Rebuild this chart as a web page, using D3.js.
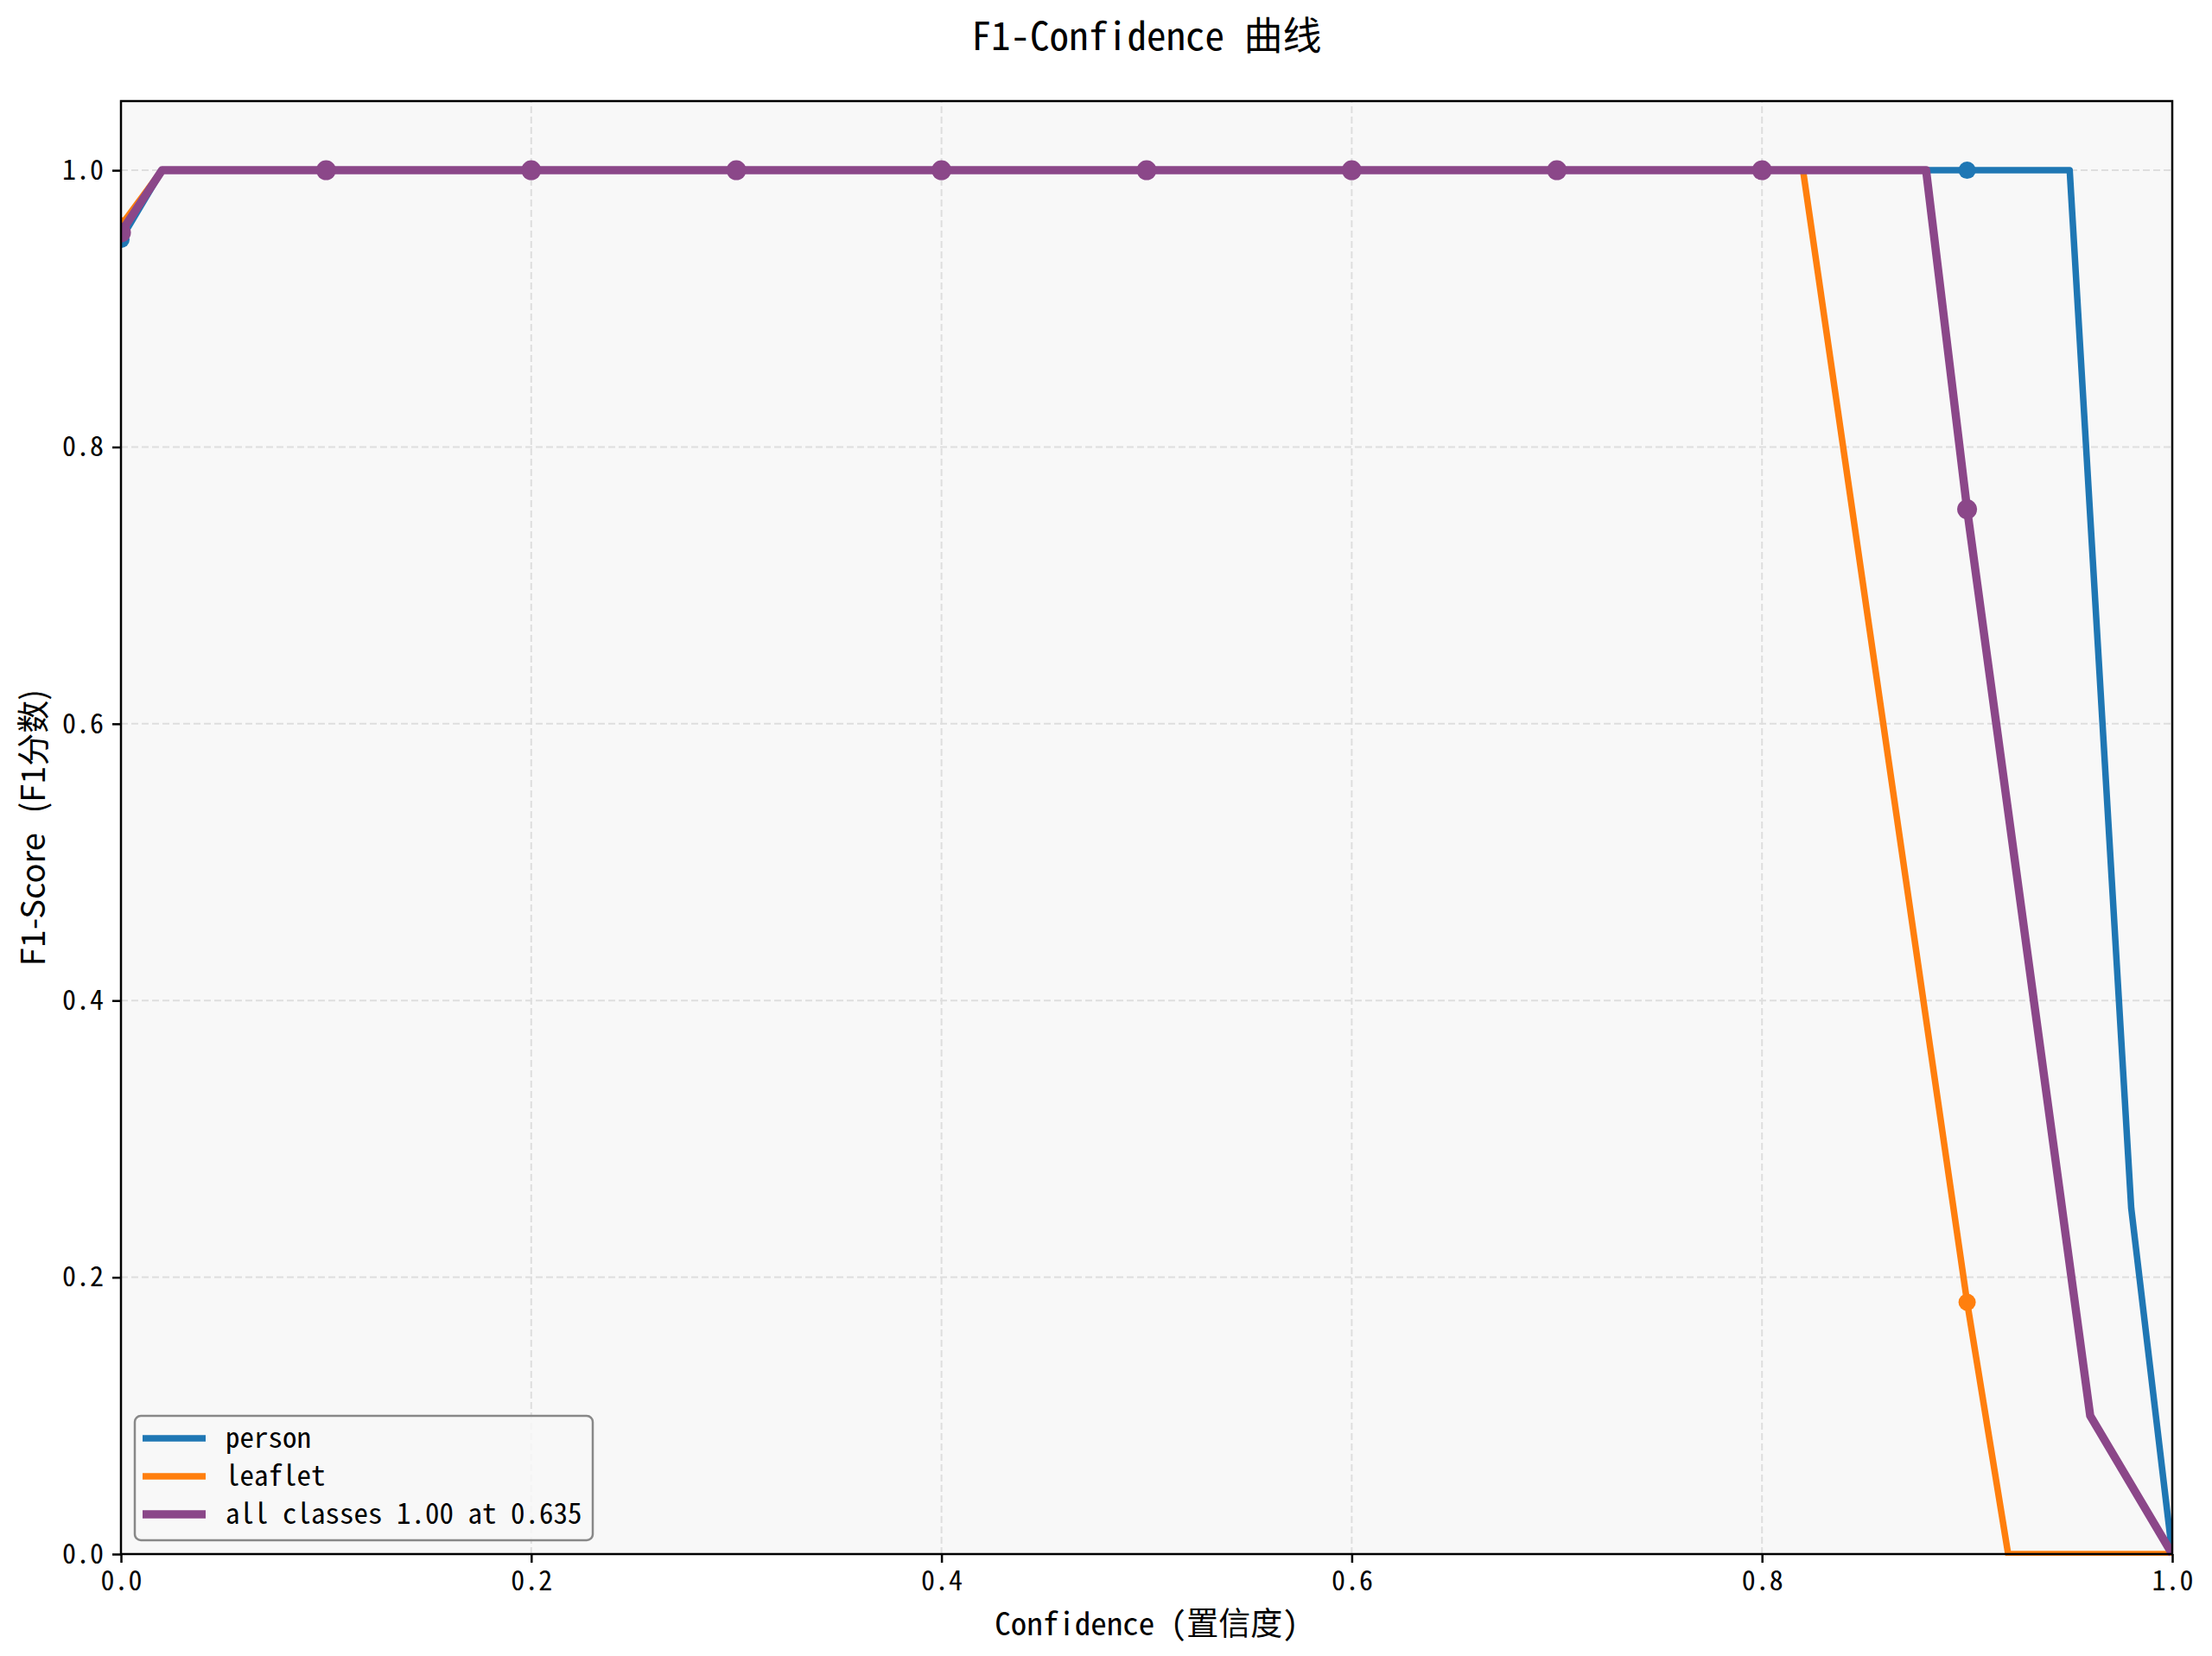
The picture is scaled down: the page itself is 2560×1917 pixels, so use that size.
<!DOCTYPE html>
<html>
<head>
<meta charset="utf-8">
<script src="https://cdn.jsdelivr.net/npm/d3@7"></script>
<style>
  body { margin: 0; background: #fff; }
  text { font-family: "Noto Sans Mono CJK SC", "Noto Sans CJK SC", "DejaVu Sans Mono", monospace; fill: #000; }
</style>
</head>
<body>
<script>
var width = 2560;
var height = 1917;
var margin = {left: 140, right: 46, top: 117, bottom: 118};

// data
var xTicks = [0, 0.2, 0.4, 0.6, 0.8, 1.0];
var yTicks = [0, 0.2, 0.4, 0.6, 0.8, 1.0];
var markerX = [0, 0.1, 0.2, 0.3, 0.4, 0.5, 0.6, 0.7, 0.8, 0.9];

var personX = [0, 0.02, 0.1, 0.2, 0.3, 0.4, 0.5, 0.6, 0.7, 0.8, 0.9, 0.95, 0.98, 1.0];
var personY = [0.95, 1, 1, 1, 1, 1, 1, 1, 1, 1, 1, 1, 0.25, 0];

var leafletX = [0, 0.02, 0.1, 0.2, 0.3, 0.4, 0.5, 0.6, 0.7, 0.8, 0.82, 0.9, 0.92, 1.0];
var leafletY = [0.96, 1, 1, 1, 1, 1, 1, 1, 1, 1, 1, 0.182, 0, 0];

var allX = [0, 0.02, 0.1, 0.2, 0.3, 0.4, 0.5, 0.6, 0.7, 0.8, 0.88, 0.9, 0.96, 1.0];
var allY = [0.955, 1, 1, 1, 1, 1, 1, 1, 1, 1, 1, 0.755, 0.1, 0];

var series = [
  {name: "person", xs: personX, ys: personY, color: "#1f77b4", lw: 7.5, r: 10},
  {name: "leaflet", xs: leafletX, ys: leafletY, color: "#ff7f0e", lw: 7.5, r: 10},
  {name: "all classes 1.00 at 0.635", xs: allX, ys: allY, color: "#8b4789", lw: 9.5, r: 11.5}
];

var svg = d3.select("body").append("svg")
    .attr("width", width)
    .attr("height", height);

var x = d3.scaleLinear().domain([0, 1]).range([margin.left, width - margin.right]);
var y = d3.scaleLinear().domain([0, 1.05]).range([height - margin.bottom, margin.top]);

// plot background
svg.append("rect")
    .attr("x", x(0)).attr("y", y(1.05))
    .attr("width", x(1) - x(0)).attr("height", y(0) - y(1.05))
    .attr("fill", "#f8f8f8");

// grid
var grid = svg.append("g").attr("stroke", "#dedede").attr("stroke-width", 2).attr("stroke-dasharray", "8,4");
grid.selectAll(".gx").data(xTicks).enter().append("line")
    .attr("x1", function(d) { return x(d); }).attr("x2", function(d) { return x(d); })
    .attr("y1", y(0)).attr("y2", y(1.05));
grid.selectAll(".gy").data(yTicks).enter().append("line")
    .attr("y1", function(d) { return y(d); }).attr("y2", function(d) { return y(d); })
    .attr("x1", x(0)).attr("x2", x(1));

svg.append("clipPath").attr("id", "clip").append("rect")
    .attr("x", x(0) - 1).attr("y", y(1.05))
    .attr("width", x(1) - x(0) + 2).attr("height", y(0) - y(1.05) + 2);

var line = d3.line()
    .x(function(d) { return x(d[0]); })
    .y(function(d) { return y(d[1]); });

var plot = svg.append("g").attr("clip-path", "url(#clip)");

series.forEach(function(s) {
  var pts = s.xs.map(function(v, i) { return [v, s.ys[i]]; });
  plot.append("path")
      .datum(pts)
      .attr("d", line)
      .attr("fill", "none")
      .attr("stroke", s.color)
      .attr("stroke-width", s.lw)
      .attr("stroke-linejoin", "round");
  plot.selectAll(null)
      .data(pts.filter(function(p) { return markerX.indexOf(p[0]) >= 0; }))
      .enter().append("circle")
      .attr("cx", function(d) { return x(d[0]); })
      .attr("cy", function(d) { return y(d[1]); })
      .attr("r", s.r)
      .attr("fill", s.color);
});

// axes
var xAxis = svg.append("g")
    .attr("transform", "translate(0," + y(0) + ")")
    .call(d3.axisBottom(x).tickValues(xTicks).tickSize(10).tickPadding(9)
      .tickFormat(d3.format(".1f")));
var yAxis = svg.append("g")
    .attr("transform", "translate(" + x(0) + ",0)")
    .call(d3.axisLeft(y).tickValues(yTicks).tickSize(10).tickPadding(10)
      .tickFormat(d3.format(".1f")));
[xAxis, yAxis].forEach(function(a) {
  a.selectAll("text").attr("font-size", 32).attr("font-family", null);
  a.selectAll(".tick line").attr("stroke-width", 2.5);
  a.select(".domain").remove();
});

// frame
svg.append("rect")
    .attr("x", x(0)).attr("y", y(1.05))
    .attr("width", x(1) - x(0)).attr("height", y(0) - y(1.05))
    .attr("fill", "none").attr("stroke", "#000").attr("stroke-width", 2.5);

// labels
svg.append("text")
    .attr("x", (x(0) + x(1)) / 2).attr("y", 58)
    .attr("text-anchor", "middle").attr("font-size", 45)
    .text("F1-Confidence 曲线");

svg.append("text")
    .attr("x", (x(0) + x(1)) / 2).attr("y", 1893)
    .attr("text-anchor", "middle").attr("font-size", 37)
    .text("Confidence (置信度)");

svg.append("text")
    .attr("transform", "translate(52," + ((y(0) + y(1.05)) / 2) + ") rotate(-90)")
    .attr("text-anchor", "middle").attr("font-size", 38)
    .style("font-family", "'Noto Sans CJK SC', sans-serif")
    .style("word-spacing", "14px")
    .text("F1-Score (F1分数)");

// legend
var legend = svg.append("g");
legend.append("rect")
    .attr("x", 156).attr("y", 1639)
    .attr("width", 530).attr("height", 144)
    .attr("rx", 7)
    .attr("fill", "#f8f8f8").attr("fill-opacity", 0.85)
    .attr("stroke", "#888").attr("stroke-width", 2.5);
series.forEach(function(s, i) {
  var cy = 1665 + i * 44;
  legend.append("line")
      .attr("x1", 165).attr("x2", 238)
      .attr("y1", cy).attr("y2", cy)
      .attr("stroke", s.color).attr("stroke-width", s.lw);
  legend.append("text")
      .attr("x", 261).attr("y", cy + 11)
      .attr("font-size", 33)
      .text(s.name);
});
</script>
</body>
</html>
